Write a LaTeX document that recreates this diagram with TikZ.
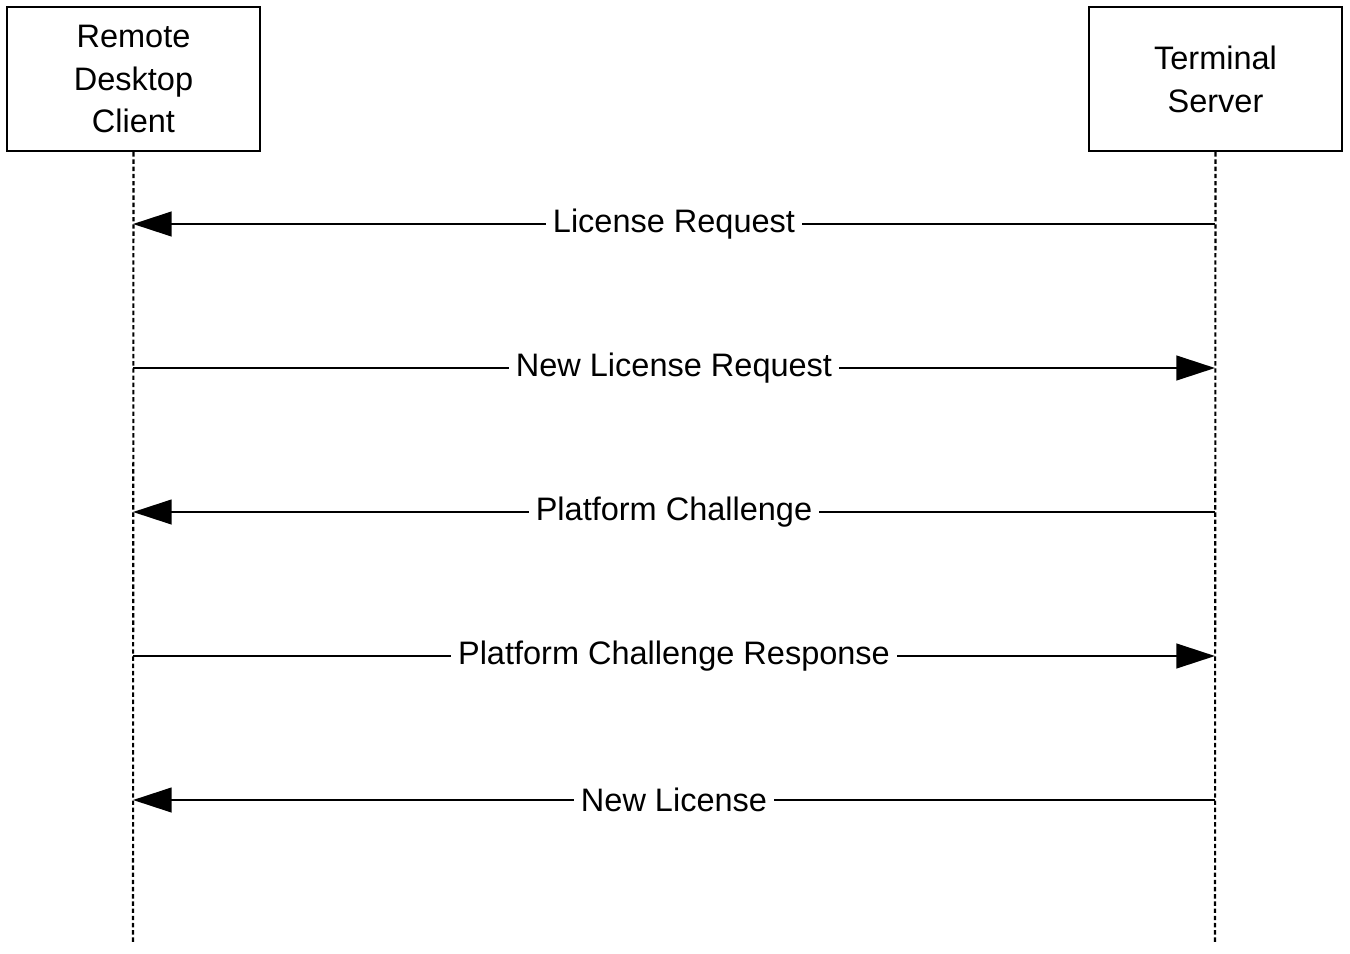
\documentclass[tikz,border=0pt]{standalone}
\usepackage{fontspec}
\setmainfont{Liberation Sans}
\usetikzlibrary{arrows.meta}
\begin{document}
\begin{tikzpicture}[x=0.02cm,y=-0.02cm,
  actor/.style={draw,line width=1.4pt,minimum width=5.06cm,minimum height=2.88cm,inner sep=0pt,align=center,font=\fontsize{18.5}{24.4}\selectfont},
  life/.style={line width=1.2pt,dash pattern=on 2.5pt off 1.6pt},
  msg/.style={line width=1.4pt,-{Triangle[length=22pt,width=14pt]}},
  lbl/.style={fill=white,inner xsep=4pt,inner ysep=3pt,font=\fontsize{18.5}{21}\selectfont}]
\useasboundingbox (0,0) rectangle (1350,954);
\node[actor] (client) at (133.5,79) {Remote\\Desktop\\Client};
\node[actor] (server) at (1215.5,79) {Terminal\\Server};
\coordinate (cend) at (133,942);
\coordinate (send) at (1215,942);
\draw[life] (client.south) -- (cend);
\draw[life] (server.south) -- (send);
\foreach \n/\y in {1/224,2/368,3/512,4/656,5/800}{
  \coordinate (c\n) at (133,\y);
  \coordinate (s\n) at (1215,\y);
}
\draw[msg] (s1) -- (c1) node[lbl,pos=0.5] (m1) {License Request};
\draw[msg] (c2) -- (s2) node[lbl,pos=0.5] (m2) {New License Request};
\draw[msg] (s3) -- (c3) node[lbl,pos=0.5] (m3) {Platform Challenge};
\draw[msg] (c4) -- (s4) node[lbl,pos=0.5] (m4) {Platform Challenge Response};
\draw[msg] (s5) -- (c5) node[lbl,pos=0.5] (m5) {New License};
\end{tikzpicture}
\end{document}
